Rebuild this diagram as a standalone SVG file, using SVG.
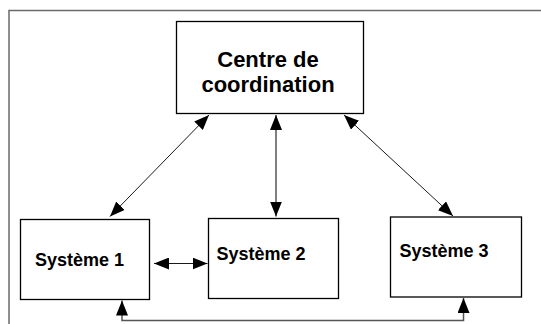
<svg xmlns="http://www.w3.org/2000/svg" width="541" height="324" viewBox="0 0 541 324">
  <style>
    .box { fill: #ffffff; stroke: #000000; stroke-width: 1.3; }
    .frame { fill: none; stroke: #6a6a6a; stroke-width: 1.5; }
    .link { fill: none; stroke: #1a1a1a; stroke-width: 1; }
    .link-gray { fill: none; stroke: #555555; stroke-width: 1.5; }
    .title { font-family: "Liberation Sans", Arial, sans-serif; font-weight: bold; font-size: 22px; fill: #000; text-anchor: middle; }
    .label { font-family: "Liberation Sans", Arial, sans-serif; font-weight: bold; font-size: 18px; fill: #000; }
  </style>
  <defs>
    <marker id="head" markerUnits="userSpaceOnUse" markerWidth="15" markerHeight="12" refX="15" refY="6" orient="auto-start-reverse">
      <path d="M0,0 L15,6 L0,12 z" fill="#000"/>
    </marker>
  </defs>

  <rect width="541" height="324" fill="#ffffff"/>

  <!-- page frame (top and left edges) -->
  <path class="frame" d="M9,324 V10.5 H541"/>

  <!-- connectors -->
  <g id="connectors">
    <line class="link" x1="209" y1="115" x2="110" y2="216.5" marker-start="url(#head)" marker-end="url(#head)"/>
    <line class="link-gray" x1="276" y1="115" x2="276" y2="216.5" marker-start="url(#head)" marker-end="url(#head)"/>
    <line class="link" x1="344" y1="115" x2="453" y2="216" marker-start="url(#head)" marker-end="url(#head)"/>
    <line class="link" x1="154" y1="263.5" x2="207.5" y2="263.5" marker-start="url(#head)" marker-end="url(#head)"/>
    <path class="link-gray" d="M122,300.5 V320.5 H463.5 V298" marker-start="url(#head)" marker-end="url(#head)"/>
  </g>

  <!-- nodes -->
  <g id="centre">
    <rect class="box" x="176.5" y="21.5" width="187" height="92"/>
    <text class="title" x="268" y="66.5">Centre de</text>
    <text class="title" x="268" y="91.5">coordination</text>
  </g>
  <g id="systeme1">
    <rect class="box" x="20.5" y="219.5" width="129" height="80"/>
    <text class="label" x="35" y="266">Système 1</text>
  </g>
  <g id="systeme2">
    <rect class="box" x="208.5" y="218.5" width="130" height="80"/>
    <text class="label" x="216.5" y="260">Système 2</text>
  </g>
  <g id="systeme3">
    <rect class="box" x="390.5" y="217" width="131" height="80"/>
    <text class="label" x="399.5" y="257">Système 3</text>
  </g>
</svg>
